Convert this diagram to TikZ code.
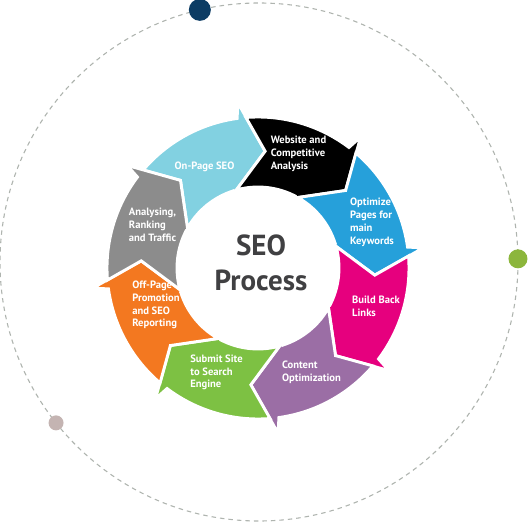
\documentclass[tikz,border=0pt]{standalone}
\usepackage{fontspec}
\setmainfont{PT Sans}
\usetikzlibrary{calc}
\definecolor{cCyan}{RGB}{130,209,225}
\definecolor{cBlack}{RGB}{0,0,0}
\definecolor{cBlue}{RGB}{38,160,218}
\definecolor{cPink}{RGB}{230,0,126}
\definecolor{cPurple}{RGB}{155,110,165}
\definecolor{cGreen}{RGB}{125,193,67}
\definecolor{cOrange}{RGB}{243,120,32}
\definecolor{cGray}{RGB}{140,140,140}
\definecolor{dotNavy}{RGB}{12,60,100}
\definecolor{dotGreen}{RGB}{140,182,60}
\definecolor{dotTaupe}{RGB}{196,180,178}
\definecolor{ringGray}{RGB}{175,180,175}
\definecolor{titleGray}{RGB}{64,64,66}
% #1 colour, #2 tip angle, #3 name
\newcommand{\seoarrow}[3]{%
  \pgfmathsetmacro{\pa}{#2+45}%
  \fill[seg=#1] ($(C)+(\pa+8.07:151pt)$) coordinate (#3-to)
    arc[start angle=\pa+8.07, end angle=#2+11.46, radius=151pt]
    -- ($(C)+(#2+10.43:166.5pt)$) coordinate (#3-bo)
    -- ($(C)+(#2:117pt)$) coordinate (#3-tip)
    -- ($(C)+(#2+22.9:77.1pt)$) coordinate (#3-bi)
    -- ($(C)+(#2+21.7:81pt)$)
    arc[start angle=#2+21.7, end angle=\pa+18.98, radius=81pt]
    -- ($(C)+(\pa:117pt)$) coordinate (#3-notch) -- cycle;
}
\begin{document}
\begin{tikzpicture}[x=1pt,y=1pt,
  seg/.style={fill=#1, draw=white, line width=2.9pt, line join=miter},
  lbl/.style={text=white, font=\bfseries\fontsize{10.6}{12.8}\selectfont, align=left, inner sep=0pt},
  title/.style={text=titleGray, font=\bfseries\fontsize{29}{35}\selectfont, inner sep=0pt, anchor=base},
  dashring/.style={draw=ringGray, line width=1.1pt, dash pattern=on 4.5pt off 4pt},
  dotc/.style={circle, fill=#1, inner sep=0pt}]
\useasboundingbox (0,0) rectangle (528,523);
\coordinate (C) at (258,255);
\coordinate (D) at (259,261);
\draw[dashring] (D) circle[radius=259pt];
\node[dotc=dotNavy, minimum size=22pt] (dnavy) at ($(D)+(103.2:259pt)$) {};
\node[dotc=dotGreen, minimum size=19pt] (dgreen) at ($(D)+(0.7:259pt)$) {};
\node[dotc=dotTaupe, minimum size=15pt] (dtaupe) at ($(D)+(218.4:259pt)$) {};

\seoarrow{cCyan}{86.5}{a1}
\seoarrow{cBlack}{41.5}{a2}
\seoarrow{cBlue}{-3.5}{a3}
\seoarrow{cPink}{-48.5}{a4}
\seoarrow{cPurple}{-93.5}{a5}
\seoarrow{cGreen}{-138.5}{a6}
\seoarrow{cOrange}{-183.5}{a7}
\seoarrow{cGray}{-228.5}{a8}

\node[lbl] (l1) at (204.5,356) {On-Page SEO};
\node[lbl] (l2) at (298.5,369) {Website and\\Competitive\\Analysis};
\node[lbl] (l3) at (372,300.5) {Optimize\\Pages for\\main\\Keywords};
\node[lbl] (l4) at (376,217) {Build Back\\Links};
\node[lbl] (l5) at (311.5,150.5) {Content\\Optimization};
\node[lbl] (l6) at (216.5,150.5) {Submit Site\\to Search\\Engine};
\node[lbl] (l7) at (156,218) {Off-Page\\Promotion\\and SEO\\Reporting};
\node[lbl] (l8) at (152.5,298) {Analysing,\\Ranking\\and Traffic};

\node[title] (seo) at (261,267) {SEO};
\node[title] (proc) at (261,232) {Process};
\end{tikzpicture}
\end{document}
